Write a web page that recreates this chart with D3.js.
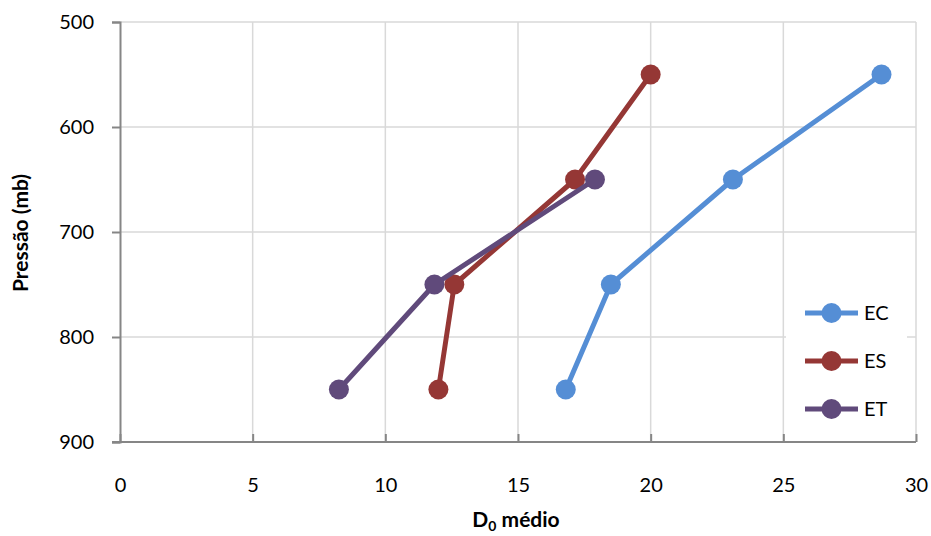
<!DOCTYPE html>
<html><head><meta charset="utf-8">
<script src="https://cdn.jsdelivr.net/npm/d3@7"></script>
<style>body{margin:0;background:#fff;} svg{display:block;}</style>
</head><body>
<svg id="c" width="931" height="536"></svg>
<script>
const pressures = [550, 650, 750, 850];
const seriesNames = ["EC", "ES", "ET"];
const ecValues = [28.7, 23.1, 18.5, 16.8];
const esValues = [20.0, 17.15, 12.6, 12.0];
const etValues = [null, 17.9, 11.85, 8.25];
const xTicks = [0, 5, 10, 15, 20, 25, 30];
const yTicks = [500, 600, 700, 800, 900];
const colors = ["#558ED5", "#953735", "#604A7B"];

const series = [ecValues, esValues, etValues].map((vals, i) => ({
  name: seriesNames[i], color: colors[i],
  pts: vals.map((v, j) => ({x: v, y: pressures[j]})).filter(d => d.x !== null)
}));

const svg = d3.select("#c");
const font = "Lato, 'Open Sans', sans-serif";
const x = d3.scaleLinear().domain([0, 30]).range([120, 916]);
const y = d3.scaleLinear().domain([500, 900]).range([22, 442]);

svg.append("g").selectAll("line.v").data(xTicks.slice(1)).join("line")
  .attr("x1", d => x(d)).attr("x2", d => x(d)).attr("y1", y(500)).attr("y2", y(900))
  .attr("stroke", "#D9D9D9").attr("stroke-width", 1.5);
svg.append("g").selectAll("line.h").data(yTicks.slice(0, -1)).join("line")
  .attr("x1", x(0)).attr("x2", x(30)).attr("y1", d => y(d)).attr("y2", d => y(d))
  .attr("stroke", "#D9D9D9").attr("stroke-width", 1.5);

const yAxis = d3.axisLeft(y).tickValues(yTicks).tickSize(8).tickPadding(18);
const gy = svg.append("g").attr("transform", `translate(${x(0)},0)`).call(yAxis);
const xAxis = d3.axisBottom(x).tickValues(xTicks).tickSize(-8).tickPadding(36);
const gx = svg.append("g").attr("transform", `translate(0,${y(900)})`).call(xAxis);
[gx, gy].forEach(g => {
  g.select(".domain").attr("stroke", "#868686").attr("stroke-width", 2);
  g.selectAll(".tick line").attr("stroke", "#868686").attr("stroke-width", 2);
  g.selectAll(".tick text").attr("font-family", font).attr("font-size", 20).attr("fill", "#000");
});
gx.select(".domain").attr("d", `M${x(0)-8},0H${x(30)}`);

svg.append("rect").attr("x", 786).attr("y", 290).attr("width", 121).attr("height", 140).attr("fill", "#fff");

const line = d3.line().x(d => x(d.x)).y(d => y(d.y));
series.forEach(s => {
  svg.append("path").datum(s.pts).attr("d", line).attr("fill", "none")
    .attr("stroke", s.color).attr("stroke-width", 5).attr("stroke-linejoin", "round");
  svg.append("g").selectAll("circle").data(s.pts).join("circle")
    .attr("cx", d => x(d.x)).attr("cy", d => y(d.y)).attr("r", 10).attr("fill", s.color);
});

series.forEach((s, i) => {
  const ly = 313 + i * 48;
  svg.append("line").attr("x1", 805).attr("x2", 858).attr("y1", ly).attr("y2", ly)
    .attr("stroke", s.color).attr("stroke-width", 5);
  svg.append("circle").attr("cx", 831.5).attr("cy", ly).attr("r", 10).attr("fill", s.color);
  svg.append("text").attr("x", 864).attr("y", ly).attr("dy", "0.35em")
    .attr("font-family", font).attr("font-size", 20).text(s.name);
});

const xt = svg.append("text").attr("x", 516).attr("y", 527).attr("text-anchor", "middle")
  .attr("font-family", font).attr("font-size", 21).attr("font-weight", "bold");
xt.append("tspan").text("D");
xt.append("tspan").attr("font-size", 14).attr("dy", 4).text("0");
xt.append("tspan").attr("dy", -4).text(" médio");

svg.append("text").attr("transform", "translate(28,233) rotate(-90)").attr("text-anchor", "middle")
  .attr("font-family", font).attr("font-size", 21).attr("font-weight", "bold").text("Pressão (mb)");
</script>
</body></html>
